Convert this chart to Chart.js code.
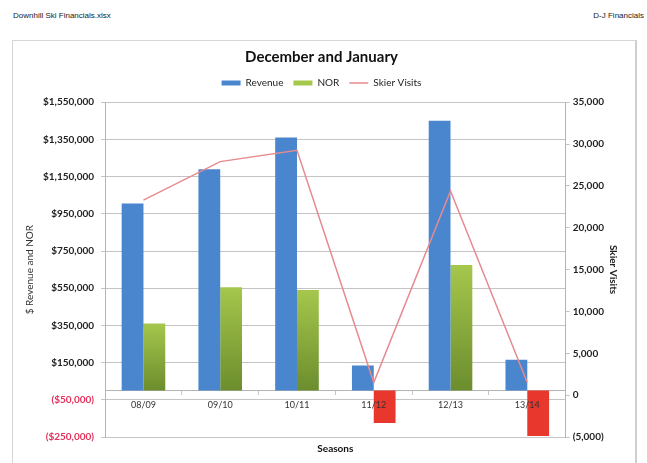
<!DOCTYPE html>
<html>
<head>
<meta charset="utf-8">
<script src="https://cdn.jsdelivr.net/npm/chart.js@4"></script>
<style>
  html, body { margin: 0; padding: 0; background: #fff; }
  body { width: 647px; height: 463px; position: relative; overflow: hidden; font-family: "Liberation Sans", Arial, sans-serif; }
  .hdr { position: absolute; top: 11px; font-size: 8px; color: #222; }
  #hdrL { left: 13px; }
  #hdrR { right: 3px; }
  #frame { position: absolute; left: 12px; top: 40px; width: 622px; height: 440px;
           border-top: 1px solid #d6d6d6; border-left: 1px solid #d6d6d6; border-right: 2px solid #cfcfcf; }
  #c { position: absolute; left: 0; top: 0; }
</style>
</head>
<body>
<div class="hdr" id="hdrL">Downhill Ski Financials.xlsx</div>
<div class="hdr" id="hdrR">D-J Financials</div>
<div id="frame"></div>
<canvas id="c" width="647" height="463"></canvas>
<script>
// datos
const seasons = ['08/09', '09/10', '10/11', '11/12', '12/13', '13/14'];
const revenue = [1005000, 1190000, 1360000, 135000, 1450000, 165000];
const nor = [360000, 555000, 540000, -175000, 675000, -245000];
const skierVisits = [23300, 27900, 29250, 1500, 24400, 1500];
const moneyAxis = [-250000, 1550000, 200000];   // min, max, paso
const visitsAxis = [-5000, 35000, 5000];

const FONT = 'Lato';
const GRID = '#c4c4c4';
const NEG_RED = '#e3315a';

function money(v) {
  const s = '$' + Math.abs(v).toLocaleString('en-US');
  return v < 0 ? '(' + s + ')' : s;
}
function visits(v) {
  const s = Math.abs(v).toLocaleString('en-US');
  return v < 0 ? '(' + s + ')' : s;
}
function norFill(ctx) {
  const v = ctx.raw;
  if (v < 0) return '#e8372c';
  const chart = ctx.chart, y = chart.scales && chart.scales.y;
  if (!y || !chart.chartArea) return '#8db043';
  const top = y.getPixelForValue(v), base = y.getPixelForValue(0);
  const g = chart.ctx.createLinearGradient(0, top, 0, base);
  g.addColorStop(0, '#a5c74c');
  g.addColorStop(1, '#6c8d2d');
  return g;
}

new Chart(document.getElementById('c'), {
  type: 'bar',
  data: {
    labels: seasons,
    datasets: [
      { label: 'Revenue', data: revenue, backgroundColor: '#4a86cd', yAxisID: 'y', order: 1, pointStyle: 'rect',
        categoryPercentage: 0.568, barPercentage: 1.0 },
      { label: 'NOR', data: nor, backgroundColor: norFill, yAxisID: 'y', order: 1, pointStyle: 'rect',
        categoryPercentage: 0.568, barPercentage: 1.0 },
      { type: 'line', label: 'Skier Visits', data: skierVisits, yAxisID: 'y1', order: 0,
        borderColor: '#e68a8f', backgroundColor: '#e68a8f', borderWidth: 1.5, pointRadius: 0,
        pointStyle: 'line', tension: 0 }
    ]
  },
  options: {
    responsive: false,
    animation: false,
    devicePixelRatio: 1,
    layout: { padding: { top: 48, left: 24, right: 28, bottom: 8 } },
    plugins: {
      tooltip: { enabled: false },
      title: { display: true, text: 'December and January', color: '#111',
               font: { family: FONT, size: 15, weight: 'bold' }, padding: { top: 0, bottom: 2 } },
      legend: {
        display: true, position: 'top', weight: 1700,
        labels: {
          usePointStyle: true, pointStyleWidth: 19, boxHeight: 5, padding: 10, color: '#222',
          font: { family: FONT, size: 10 },
          sort: (a, b) => a.datasetIndex - b.datasetIndex
        }
      },
      // separador vacio bajo la leyenda
      subtitle: { display: true, text: '', font: { size: 1 }, padding: { top: 0, bottom: 3 } }
    },
    scales: {
      x: {
        position: { y: 0 },
        grid: { display: true, drawOnChartArea: false, drawTicks: true, tickLength: 4, color: GRID },
        border: { display: true, color: '#b4b4b4' },
        ticks: { z: 1, color: '#333', padding: 5, font: { family: FONT, size: 9 } }
      },
      x2: {
        type: 'category',
        position: 'bottom',
        grid: { display: false, drawTicks: false },
        border: { display: false },
        ticks: { display: false },
        title: { display: true, text: 'Seasons', color: '#111',
                 font: { family: FONT, size: 10, weight: 'bold' }, padding: { top: 6, bottom: 0 } }
      },
      y: {
        position: 'left',
        min: moneyAxis[0], max: moneyAxis[1],
        grid: { color: GRID, tickLength: 4 },
        border: { display: true, color: '#b4b4b4' },
        ticks: {
          stepSize: moneyAxis[2], padding: 7,
          font: { family: FONT, size: 10, weight: 'bold' },
          color: (c) => (c.tick && c.tick.value < 0 ? NEG_RED : '#222'),
          callback: (v) => money(v)
        },
        title: { display: true, text: '$ Revenue and NOR', color: '#333',
                 font: { family: FONT, size: 10 }, padding: { top: 0, bottom: 0 } }
      },
      y1: {
        position: 'right',
        min: visitsAxis[0], max: visitsAxis[1],
        grid: { drawOnChartArea: false, color: GRID, tickLength: 4 },
        border: { display: true, color: '#b4b4b4' },
        ticks: {
          stepSize: visitsAxis[2], padding: 3, color: '#222',
          font: { family: FONT, size: 10, weight: 'bold' },
          callback: (v) => visits(v)
        },
        title: { display: true, text: 'Skier Visits', color: '#222',
                 font: { family: FONT, size: 10, weight: 'bold' }, padding: { top: 0, bottom: 0 } }
      }
    }
  }
});
</script>
</body>
</html>
